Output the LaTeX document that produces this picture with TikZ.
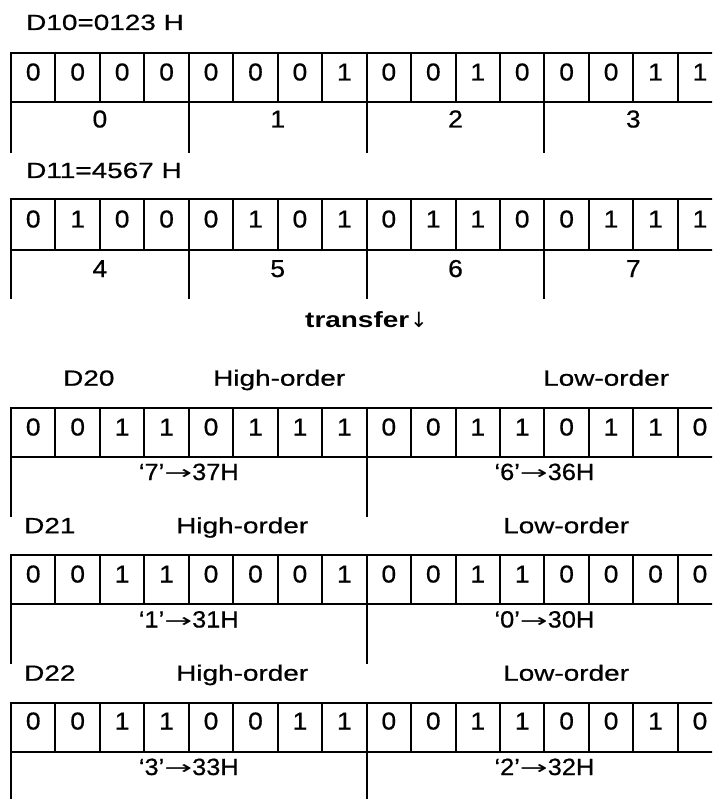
\documentclass[tikz,border=0pt]{standalone}
\usepackage{graphicx}
\usepackage{fontspec}
\setmainfont{Liberation Sans}
\newfontfamily\lblfont[FakeStretch=1.27,FakeBold=0.6]{Liberation Sans}
\newfontfamily\boldfont[FakeStretch=1.27]{Liberation Sans Bold}
\newfontfamily\digfont[FakeStretch=1.08,FakeBold=0.6]{Liberation Sans}
\newfontfamily\arrfont{DejaVu Sans}
\begin{document}
\begin{tikzpicture}[x=1pt,y=-1pt,
  gridline/.style={line width=2pt,black,line cap=rect},
  digit/.style={inner sep=0pt,anchor=base,font=\digfont\fontsize{24.5}{24.5}\selectfont},
  hexlbl/.style={inner sep=0pt,anchor=base,font=\digfont\fontsize{23.5}{23.5}\selectfont},
  regl/.style={inner sep=0pt,anchor=base west,font=\lblfont\fontsize{22}{22}\selectfont},
  boldtxt/.style={inner sep=0pt,anchor=base west,font=\boldfont\fontsize{22}{22}\selectfont}]
\useasboundingbox (0,0) rectangle (712,799);
\clip (0,0) rectangle (712,799);
\def\cw{44.45}
\def\arr{\raisebox{0.5pt}{\scalebox{1.75}[1]{\arrfont\fontsize{19}{19}\selectfont→}}}
% ---------- top tables ----------
% D10
\node[regl] (lD10) at (26,30) {D10=0123 H};
\draw[gridline] (11,52.7) -- (722,52.7) (11,101.7) -- (722,101.7);
\foreach \k in {0,...,16} \draw[gridline] ({11+\k*\cw},52.7) -- ({11+\k*\cw},101.7);
\foreach \k in {0,4,8,12,16} \draw[gridline] ({11+\k*\cw},101.7) -- ({11+\k*\cw},151.7);
\foreach \b [count=\i from 0] in {0,0,0,0,0,0,0,1,0,0,1,0,0,0,1,1}
  \node[digit] (a\i) at ({11+(\i+0.5)*\cw},80.5) {\b};
\foreach \h [count=\i from 0] in {0,1,2,3}
  \node[digit] (an\i) at ({11+(4*\i+2)*\cw},127.5) {\h};
% D11
\node[regl] (lD11) at (26,178) {D11=4567 H};
\draw[gridline] (11,199.3) -- (722,199.3) (11,250) -- (722,250);
\foreach \k in {0,...,16} \draw[gridline] ({11+\k*\cw},199.3) -- ({11+\k*\cw},250);
\foreach \k in {0,4,8,12,16} \draw[gridline] ({11+\k*\cw},250) -- ({11+\k*\cw},298);
\foreach \b [count=\i from 0] in {0,1,0,0,0,1,0,1,0,1,1,0,0,1,1,1}
  \node[digit] (b\i) at ({11+(\i+0.5)*\cw},227.5) {\b};
\foreach \h [count=\i from 0] in {4,5,6,7}
  \node[digit] (bn\i) at ({11+(4*\i+2)*\cw},277) {\h};
% transfer
\node[boldtxt] (tr) at (305,327) {transfer\hspace{1pt}{\arrfont\fontsize{21}{21}\selectfont↓}};
% ---------- bottom tables ----------
% D20
\node[regl] (lD20) at (63,385.7) {D20};
\node[regl] (hD20) at (213,385.7) {High-order};
\node[regl] (wD20) at (543,385.7) {Low-order};
\draw[gridline] (11,407.5) -- (722,407.5) (11,456.7) -- (722,456.7);
\foreach \k in {0,...,16} \draw[gridline] ({11+\k*\cw},407.5) -- ({11+\k*\cw},456.7);
\foreach \k in {0,8,16} \draw[gridline] ({11+\k*\cw},456.7) -- ({11+\k*\cw},515.5);
\foreach \b [count=\i from 0] in {0,0,1,1,0,1,1,1,0,0,1,1,0,1,1,0}
  \node[digit] (c\i) at ({11+(\i+0.5)*\cw},435.5) {\b};
\node[hexlbl] (cH) at ({11+4*\cw},480) {‘7’\arr37H};
\node[hexlbl] (cL) at ({11+12*\cw},480) {‘6’\arr36H};
% D21
\node[regl] (lD21) at (24,533.2) {D21};
\node[regl] (hD21) at (176,533.2) {High-order};
\node[regl] (wD21) at (503,533.2) {Low-order};
\draw[gridline] (11,555.3) -- (722,555.3) (11,604.4) -- (722,604.4);
\foreach \k in {0,...,16} \draw[gridline] ({11+\k*\cw},555.3) -- ({11+\k*\cw},604.4);
\foreach \k in {0,8,16} \draw[gridline] ({11+\k*\cw},604.4) -- ({11+\k*\cw},663);
\foreach \b [count=\i from 0] in {0,0,1,1,0,0,0,1,0,0,1,1,0,0,0,0}
  \node[digit] (d\i) at ({11+(\i+0.5)*\cw},582.5) {\b};
\node[hexlbl] (dH) at ({11+4*\cw},627.5) {‘1’\arr31H};
\node[hexlbl] (dL) at ({11+12*\cw},627.5) {‘0’\arr30H};
% D22
\node[regl] (lD22) at (24,680.7) {D22};
\node[regl] (hD22) at (176,680.7) {High-order};
\node[regl] (wD22) at (503,680.7) {Low-order};
\draw[gridline] (11,703) -- (722,703) (11,752) -- (722,752);
\foreach \k in {0,...,16} \draw[gridline] ({11+\k*\cw},703) -- ({11+\k*\cw},752);
\foreach \k in {0,8,16} \draw[gridline] ({11+\k*\cw},752) -- ({11+\k*\cw},810);
\foreach \b [count=\i from 0] in {0,0,1,1,0,0,1,1,0,0,1,1,0,0,1,0}
  \node[digit] (e\i) at ({11+(\i+0.5)*\cw},729.5) {\b};
\node[hexlbl] (eH) at ({11+4*\cw},775) {‘3’\arr33H};
\node[hexlbl] (eL) at ({11+12*\cw},775) {‘2’\arr32H};
\end{tikzpicture}
\end{document}
